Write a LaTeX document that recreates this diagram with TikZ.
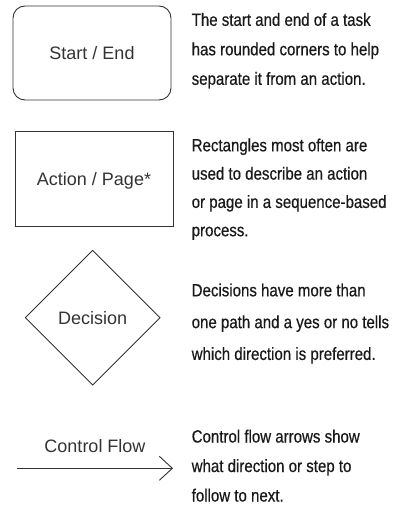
\documentclass[tikz,border=0pt]{standalone}
\usepackage{fontspec}
\setmainfont{Liberation Sans}
\newfontfamily\descfont[FakeStretch=0.85,FakeBold=0.5]{Liberation Sans}
\usepackage{tikz}
\usetikzlibrary{shapes.geometric}
\usetikzlibrary{arrows.meta}
\tikzstyle{symbol}  = [
    draw=black!80,
    line width=0.9pt,
    text=black!80,
    font=\fontsize{18}{21}\selectfont,
    text depth=0pt,
    inner sep=2pt
]
\tikzstyle{terminal}  = [
    symbol,
    rectangle,
    rounded corners=12pt,
    minimum width=158pt,
    minimum height=94pt
]
\tikzstyle{actionbox}  = [
    symbol,
    rectangle,
    minimum width=158pt,
    minimum height=95pt
]
\tikzstyle{decisionbox}  = [
    symbol,
    diamond,
    aspect=1,
    minimum width=135pt,
    minimum height=135pt
]
\tikzstyle{flow}  = [
    draw=black!80,
    line width=0.9pt,
    -{Straight Barb[length=13pt,width=24pt]}
]
\tikzstyle{flowlabel}  = [
    text=black!80,
    font=\fontsize{18}{21}\selectfont,
    text depth=0pt,
    inner sep=0pt
]
\tikzstyle{desc}  = [
    anchor=north west,
    inner sep=0pt,
    align=left,
    text=black!90
]
\newcommand{\descsize}[1]{\descfont\fontsize{17.7}{#1}\selectfont}

\begin{document}
\begin{tikzpicture}[x=1pt, y=-1pt]
\useasboundingbox (0,0) rectangle (395,505);
\node[terminal] (startend)       at (92,53)      {Start / End};
\node[actionbox] (action)        at (94,178.5)   {Action / Page*};
\node[decisionbox] (decision)    at (92.7,317.7) {Decision};
\coordinate (flowtail)           at (17,468.3);
\coordinate (flowhead)           at (173,468.3);

\draw[flow] (flowtail)       to node[flowlabel, above=15.6pt] {Control Flow}      (flowhead);

\node[desc, font=\descsize{29.5}] (startdesc)    at (191.5,12.8)  {The start and end of a task\\has rounded corners to help\\separate it from an action.};
\node[desc, font=\descsize{28.3}] (actiondesc)   at (191.5,138.3) {Rectangles most often are\\used to describe an action\\or page in a sequence-based\\process.};
\node[desc, font=\descsize{31.8}] (decisiondesc) at (191.5,283.3) {Decisions have more than\\one path and a yes or no tells\\which direction is preferred.};
\node[desc, font=\descsize{29.5}] (flowdesc)     at (191.5,429.5) {Control flow arrows show\\what direction or step to\\follow to next.};

\end{tikzpicture}
\end{document}
